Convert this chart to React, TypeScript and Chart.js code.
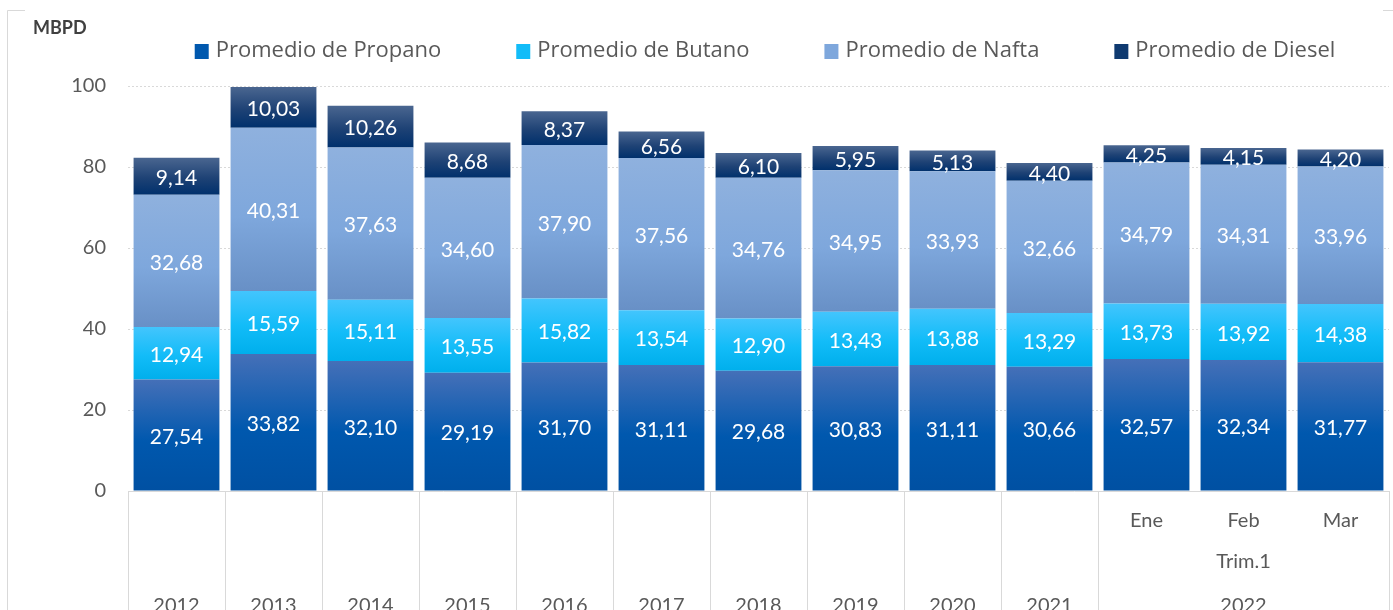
import React, { useEffect, useRef } from 'react';
import { Chart, registerables } from 'chart.js';

Chart.register(...registerables);

// ---- Data ----
const categories = ['2012', '2013', '2014', '2015', '2016', '2017', '2018', '2019', '2020', '2021', 'Ene', 'Feb', 'Mar'];
const monthLabels = ['', '', '', '', '', '', '', '', '', '', 'Ene', 'Feb', 'Mar'];
const quarterLabels = ['', '', '', '', '', '', '', '', '', '', 'Trim.1', 'Trim.1', 'Trim.1'];
const yearLabels = ['2012', '2013', '2014', '2015', '2016', '2017', '2018', '2019', '2020', '2021', '2022', '2022', '2022'];

const propano = [27.54, 33.82, 32.10, 29.19, 31.70, 31.11, 29.68, 30.83, 31.11, 30.66, 32.57, 32.34, 31.77];
const butano = [12.94, 15.59, 15.11, 13.55, 15.82, 13.54, 12.90, 13.43, 13.88, 13.29, 13.73, 13.92, 14.38];
const nafta = [32.68, 40.31, 37.63, 34.60, 37.90, 37.56, 34.76, 34.95, 33.93, 32.66, 34.79, 34.31, 33.96];
const diesel = [9.14, 10.03, 10.26, 8.68, 8.37, 6.56, 6.10, 5.95, 5.13, 4.40, 4.25, 4.15, 4.20];

const seriesNames = ['Promedio de Propano', 'Promedio de Butano', 'Promedio de Nafta', 'Promedio de Diesel'];
const yTicks = [0, 20, 40, 60, 80, 100];
const unitLabel = 'MBPD';

// gradient stops: top, middle, bottom
const gradPropano = ['#4570B8', '#0058AE', '#0050A2'];
const gradButano = ['#43C5FD', '#12BCF8', '#00AFEC'];
const gradNafta = ['#8FB1DE', '#7EA7DC', '#6890C6'];
const gradDiesel = ['#4A6690', '#1E4275', '#00306C'];
const legendColors = ['#0058AE', '#12BCF8', '#7EA7DC', '#0F3A70'];

const FONT = 'Lato, "Open Sans", sans-serif';
const LEGEND_FONT = '"Open Sans", Lato, sans-serif';
const TEXT = '#595959';
const GRID = '#D9D9D9';

function makeGrad(stops: string[]) {
  return (ctx: any) => {
    const chart = ctx.chart;
    if (!chart.chartArea || ctx.type !== 'data') return stops[1];
    const y = chart.scales.y;
    let base = 0;
    for (let i = 0; i < ctx.datasetIndex; i++) base += chart.data.datasets[i].data[ctx.dataIndex] as number;
    const v = base + (chart.data.datasets[ctx.datasetIndex].data[ctx.dataIndex] as number);
    const top = y.getPixelForValue(v);
    const bottom = y.getPixelForValue(base);
    if (!isFinite(top) || !isFinite(bottom) || top === bottom) return stops[1];
    const g = chart.ctx.createLinearGradient(0, top, 0, bottom);
    g.addColorStop(0, stops[0]);
    g.addColorStop(0.55, stops[1]);
    g.addColorStop(1, stops[2]);
    return g;
  };
}

function groups(labels: string[]) {
  const out: { label: string; from: number; to: number }[] = [];
  labels.forEach((l, i) => {
    const last = out[out.length - 1];
    if (last && last.label === l && l !== '') last.to = i;
    else out.push({ label: l, from: i, to: i });
  });
  return out;
}

const decorPlugin = {
  id: 'decor',
  beforeDraw(chart: any) {
    const c = chart.ctx;
    c.save();
    c.fillStyle = '#FFFFFF';
    c.fillRect(0, 0, chart.width, chart.height);
    // outer frame (partly hidden behind the cut-off title)
    c.strokeStyle = GRID;
    c.lineWidth = 1;
    c.beginPath();
    c.moveTo(7.5, chart.height);
    c.lineTo(7.5, 10.5);
    c.lineTo(25, 10.5);
    c.moveTo(1383, 10.5);
    c.lineTo(chart.width, 10.5);
    c.stroke();
    // unit label
    c.fillStyle = '#404040';
    c.font = `bold 18px ${FONT}`;
    c.textAlign = 'left';
    c.textBaseline = 'middle';
    c.fillText(unitLabel, 33, 28);
    // legend
    c.font = `22px ${LEGEND_FONT}`;
    const box = 14, gapBT = 7, gapItems = 75;
    const widths = seriesNames.map((n) => c.measureText(n).width);
    const total = widths.reduce((a, b) => a + b, 0) + seriesNames.length * (box + gapBT) + (seriesNames.length - 1) * gapItems;
    let x = 765 - total / 2;
    const ly = 51;
    seriesNames.forEach((n, i) => {
      c.fillStyle = legendColors[i];
      c.fillRect(x, ly - box / 2, box, box + 1);
      x += box + gapBT;
      c.fillStyle = TEXT;
      c.fillText(n, x, ly);
      x += widths[i] + gapItems;
    });
    c.restore();
  },
  afterDatasetsDraw(chart: any) {
    const c = chart.ctx;
    c.save();
    c.fillStyle = '#FFFFFF';
    c.font = `21px ${FONT}`;
    c.textAlign = 'center';
    c.textBaseline = 'middle';
    chart.data.datasets.forEach((ds: any, di: number) => {
      const meta = chart.getDatasetMeta(di);
      meta.data.forEach((el: any, i: number) => {
        const v = ds.data[i] as number;
        const txt = v.toFixed(2).replace('.', ',');
        c.fillText(txt, el.x, (el.y + el.base) / 2 + 2);
      });
    });
    c.restore();
  },
  afterDraw(chart: any) {
    const c = chart.ctx;
    const xs = chart.scales.x;
    const n = categories.length;
    const step = (xs.right - xs.left) / n;
    const top = xs.top;
    const bottom = chart.height;
    c.save();
    c.strokeStyle = GRID;
    c.lineWidth = 1;
    const yg = groups(yearLabels);
    const boundaries = new Set<number>();
    yg.forEach((g) => {
      boundaries.add(g.from);
      boundaries.add(g.to + 1);
    });
    boundaries.forEach((b) => {
      const x = Math.round(xs.getPixelForValue(b) - step / 2) + 0.5;
      c.beginPath();
      c.moveTo(x, top);
      c.lineTo(x, bottom);
      c.stroke();
    });
    c.fillStyle = TEXT;
    c.font = `20px ${FONT}`;
    c.textAlign = 'center';
    c.textBaseline = 'middle';
    monthLabels.forEach((l, i) => {
      if (l) c.fillText(l, xs.getPixelForValue(i), top + 30);
    });
    groups(quarterLabels).forEach((g) => {
      if (!g.label) return;
      const cx = (xs.getPixelForValue(g.from) + xs.getPixelForValue(g.to)) / 2;
      c.fillText(g.label, cx, top + 71);
    });
    yg.forEach((g) => {
      const cx = (xs.getPixelForValue(g.from) + xs.getPixelForValue(g.to)) / 2;
      c.fillText(g.label, cx, top + 115);
    });
    c.restore();
  },
};

export default function App() {
  const ref = useRef<HTMLCanvasElement | null>(null);
  useEffect(() => {
    if (!ref.current) return;
    const chart = new Chart(ref.current, {
      type: 'bar',
      data: {
        labels: categories,
        datasets: [
          { label: seriesNames[0], data: propano, backgroundColor: makeGrad(gradPropano) },
          { label: seriesNames[1], data: butano, backgroundColor: makeGrad(gradButano) },
          { label: seriesNames[2], data: nafta, backgroundColor: makeGrad(gradNafta) },
          { label: seriesNames[3], data: diesel, backgroundColor: makeGrad(gradDiesel) },
        ] as any,
      },
      options: {
        responsive: false,
        animation: false,
        devicePixelRatio: 1,
        layout: { padding: { top: 86, right: 4, bottom: 0, left: 0 } },
        datasets: { bar: { barPercentage: 0.885, categoryPercentage: 1, borderWidth: 0 } } as any,
        plugins: { legend: { display: false }, tooltip: { enabled: false }, title: { display: false } },
        scales: {
          x: {
            stacked: true,
            grid: { display: false },
            ticks: { display: false },
            border: { display: true, color: GRID, width: 1 },
            afterFit: (s: any) => {
              s.height = 119;
            },
          },
          y: {
            stacked: true,
            min: 0,
            max: 100,
            afterBuildTicks: (s: any) => {
              s.ticks = yTicks.map((v) => ({ value: v }));
            },
            ticks: { color: TEXT, font: { family: FONT, size: 20 }, padding: 22 },
            grid: { color: GRID, drawTicks: false, lineWidth: 1 },
            border: { display: false, dash: [2, 2] },
            afterFit: (s: any) => {
              s.width = 128;
            },
          },
        },
      },
      plugins: [decorPlugin],
    });
    return () => chart.destroy();
  }, []);
  return (
    <div style={{ position: 'absolute', left: 0, top: 0, width: 1393, height: 610, background: '#fff' }}>
      <canvas ref={ref} width={1393} height={610} style={{ display: 'block', width: 1393, height: 610 }} />
    </div>
  );
}
